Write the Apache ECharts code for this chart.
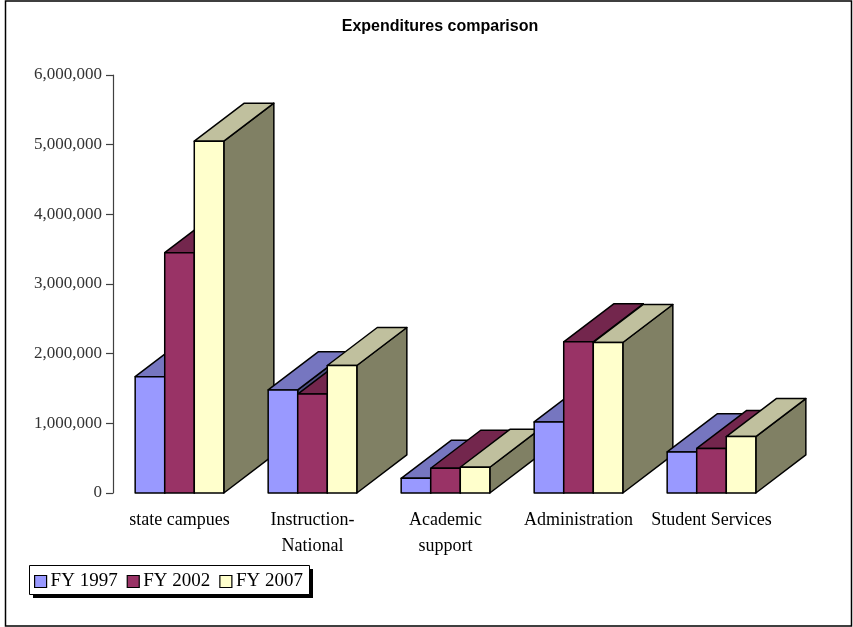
<!DOCTYPE html>
<html>
<head>
<meta charset="utf-8">
<script src="https://cdn.jsdelivr.net/npm/echarts@6/dist/echarts.min.js"></script>
<style>
html,body{margin:0;padding:0;background:#fff;}
#chart{width:853px;height:627px;}
</style>
</head>
<body>
<div id="chart"></div>
<script>
// ---- data ----
var categories = ['state campues', 'Instruction-\nNational', 'Academic\nsupport', 'Administration', 'Student Services'];
var seriesNames = ['FY 1997', 'FY 2002', 'FY 2007'];
var fy1997 = [1670000, 1480000, 210000, 1020000, 590000];
var fy2002 = [3450000, 1420000, 355000, 2170000, 640000];
var fy2007 = [5050000, 1830000, 370000, 2160000, 810000];
var yTicks = [0, 1000000, 2000000, 3000000, 4000000, 5000000, 6000000];

var seriesValues = [fy1997, fy2002, fy2007];
var faceColors = [
  {front: '#9999FF', top: '#7676C0', side: '#4D4D80'},
  {front: '#993366', top: '#73264D', side: '#4D1A33'},
  {front: '#FFFFCC', top: '#C0C09E', side: '#808064'}
];

function makeRender(sIdx) {
  return function (params, api) {
    var cat = api.value(0), val = api.value(1);
    var base = api.coord([cat, 0]);
    var topP = api.coord([cat, val]);
    var catW = api.size([1, 0])[0];
    var bw = catW * 2 / 9;
    var dx = catW * 0.376, dy = -catW * 0.286;
    var x0 = base[0] - 1.5 * bw + sIdx * bw;
    var x1 = x0 + bw;
    var yb = base[1], yt = topP[1];
    var c = faceColors[sIdx];
    var zb = cat * 10 + sIdx * 3;
    var st = {stroke: '#000', lineWidth: 1.5, lineJoin: 'round'};
    return {
      type: 'group',
      children: [
        {type: 'polygon', z2: zb,
         shape: {points: [[x1, yb], [x1, yt], [x1 + dx, yt + dy], [x1 + dx, yb + dy]]},
         style: Object.assign({fill: c.side}, st)},
        {type: 'polygon', z2: zb + 1,
         shape: {points: [[x0, yt], [x1, yt], [x1 + dx, yt + dy], [x0 + dx, yt + dy]]},
         style: Object.assign({fill: c.top}, st)},
        {type: 'rect', z2: zb + 2,
         shape: {x: x0, y: yt, width: bw, height: yb - yt},
         style: Object.assign({fill: c.front}, st)}
      ]
    };
  };
}

var series = seriesNames.map(function (name, i) {
  return {
    name: name,
    type: 'custom',
    clip: false,
    renderItem: makeRender(i),
    itemStyle: {color: faceColors[i].front},
    encode: {x: 0, y: 1},
    data: seriesValues[i].map(function (v, k) { return [k, v]; })
  };
});

var chart = echarts.init(document.getElementById('chart'));
chart.setOption({
  backgroundColor: '#fff',
  animation: false,
  title: {
    text: 'Expenditures comparison',
    left: 435, top: 14, textAlign: 'center',
    textStyle: {fontFamily: 'Liberation Sans, Arial, sans-serif', fontWeight: 'bold', fontSize: 16, color: '#000'}
  },
  graphic: [{
    type: 'rect', silent: true, z: -1,
    shape: {x: 5.5, y: 1, width: 846, height: 625},
    style: {fill: 'none', stroke: '#000', lineWidth: 1.5}
  }, {
    type: 'rect', silent: true, z: 1,
    shape: {x: 33, y: 569, width: 280, height: 29},
    style: {fill: '#000'}
  }, {
    type: 'rect', silent: true, z: 2,
    shape: {x: 29.5, y: 565.5, width: 280, height: 29},
    style: {fill: '#fff', stroke: '#000', lineWidth: 1}
  }],
  legend: {
    data: seriesNames,
    left: 29, top: 566,
    orient: 'horizontal',
    icon: 'rect',
    z: 5,
    itemWidth: 12, itemHeight: 12, itemGap: 9,
    padding: [6, 6, 4, 5],
    itemStyle: {borderColor: '#000', borderWidth: 1.2},
    textStyle: {fontFamily: 'Liberation Serif, serif', fontSize: 19, color: '#000', padding: [0, 0, 0, -1]}
  },
  grid: {left: 113, right: 75, top: 75, bottom: 134},
  xAxis: {
    type: 'category',
    data: categories,
    axisLine: {show: false},
    axisTick: {show: false},
    axisLabel: {
      interval: 0, margin: 14,
      fontFamily: 'Liberation Serif, serif', fontSize: 18, lineHeight: 26, color: '#000'
    }
  },
  yAxis: {
    type: 'value',
    min: yTicks[0], max: yTicks[yTicks.length - 1], interval: yTicks[1] - yTicks[0],
    splitLine: {show: false},
    axisLine: {show: true, lineStyle: {color: '#404040', width: 1.2}},
    axisTick: {show: true, inside: false, length: 7, lineStyle: {color: '#404040', width: 1.2}},
    axisLabel: {
      margin: 11,
      fontFamily: 'Liberation Serif, serif', fontSize: 17, color: '#333',
      formatter: function (v) { return v.toString().replace(/\B(?=(\d{3})+(?!\d))/g, ','); }
    }
  },
  series: series
});
</script>
</body>
</html>
